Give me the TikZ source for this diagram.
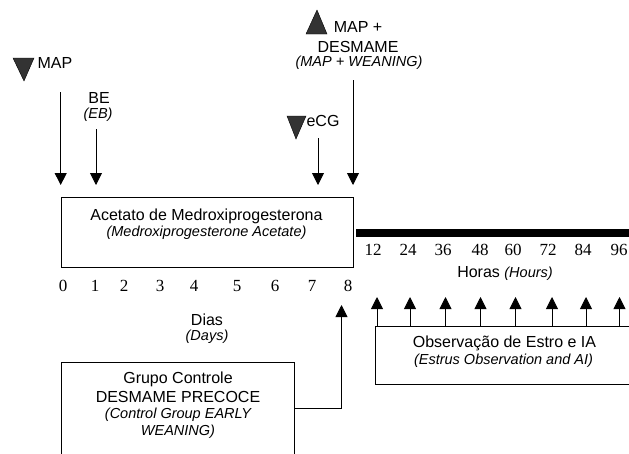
\documentclass[tikz,border=0pt]{standalone}
\usepackage{fontspec}
\setmainfont{Liberation Sans}
\newfontfamily\numfont{Liberation Serif}
\usetikzlibrary{arrows.meta}

\tikzset{
  lbl/.style={font=\fontsize{16}{18}\selectfont, inner sep=0pt},
  sub/.style={font=\fontsize{14.5}{16}\selectfont\itshape, inner sep=0pt},
  num/.style={font=\numfont\fontsize{17}{19}\selectfont, inner sep=0pt},
  box/.style={draw, line width=0.9pt, inner sep=0pt, anchor=north west},
  arr/.style={line width=0.9pt, -{Triangle[width=12pt,length=12pt]}},
  tri/.style={fill=black!80, draw=black, line width=0.4pt}
}

\begin{document}
\begin{tikzpicture}[x=1pt,y=-1pt]
  \useasboundingbox (0,0) rectangle (629,453);
  \clip (0,0) rectangle (629,453);

  \node[box, minimum width=292, minimum height=70] (acet) at (60.7,197) {};
  \node[box, minimum width=265, minimum height=58] (estro) at (375,326) {};
  \node[box, minimum width=233, minimum height=100] (grupo) at (60.7,362) {};

  \node[lbl] (acet1) at (206.5,216) {Acetato de Medroxiprogesterona};
  \node[sub] (acet2) at (206.5,233) {(Medroxiprogesterone Acetate)};
  \node[lbl] (estro1) at (504.5,343) {Observação de Estro e IA};
  \node[sub] (estro2) at (503.5,361) {(Estrus Observation and AI)};
  \node[lbl] (grupo1) at (178,379) {Grupo Controle};
  \node[lbl] (grupo2) at (178,397) {DESMAME PRECOCE};
  \node[sub] (grupo3) at (178,415) {(Control Group EARLY};
  \node[sub] (grupo4) at (178,432) {WEANING)};

  \filldraw[tri] (13,58) -- (34,58) -- (24,81) -- cycle;
  \filldraw[tri] (287,116) -- (306,116) -- (296,139) -- cycle;
  \filldraw[tri] (306,34) -- (327,34) -- (317,10) -- cycle;

  \node[lbl] (map) at (55,63) {MAP};
  \node[lbl] (be) at (99,98) {BE};
  \node[sub] (eb) at (98,115) {(EB)};
  \node[lbl] (ecg) at (323,121) {eCG};
  \node[lbl] (mapd1) at (358,27) {MAP +};
  \node[lbl] (mapd2) at (358,47) {DESMAME};
  \node[sub] (mapd3) at (359,63) {(MAP + WEANING)};

  \coordinate (s0) at (60.7,92);
  \coordinate (e0) at (60.7,185);
  \coordinate (s1) at (96,129);
  \coordinate (e1) at (96,185);
  \coordinate (s7) at (318,138);
  \coordinate (e7) at (318,185);
  \coordinate (s8) at (353,80);
  \coordinate (e8) at (353,185);
  \draw[arr] (s0) -- (e0);
  \draw[arr] (s1) -- (e1);
  \draw[arr] (s7) -- (e7);
  \draw[arr] (s8) -- (e8);

  \coordinate (bar1) at (356,233);
  \coordinate (bar2) at (640,233);
  \draw[line width=8pt] (bar1) -- (bar2);

  \node[num] (day0) at (63,286) {0};
  \node[num] (day1) at (95,286) {1};
  \node[num] (day2) at (124,286) {2};
  \node[num] (day3) at (160,286) {3};
  \node[num] (day4) at (194,286) {4};
  \node[num] (day5) at (237,286) {5};
  \node[num] (day6) at (275,286) {6};
  \node[num] (day7) at (312,286) {7};
  \node[num] (day8) at (348,286) {8};
  \node[lbl] (dias) at (207,320) {Dias};
  \node[sub] (days) at (207,337) {(Days)};

  \node[num] (hr12) at (373,250) {12};
  \node[num] (hr24) at (408,250) {24};
  \node[num] (hr36) at (443,250) {36};
  \node[num] (hr48) at (480,250) {48};
  \node[num] (hr60) at (513,250) {60};
  \node[num] (hr72) at (548,250) {72};
  \node[num] (hr84) at (583,250) {84};
  \node[num] (hr96) at (619,250) {96};
  \node[lbl] (horas) at (505,273) {Horas {\fontsize{14.5}{16}\selectfont\itshape (Hours)}};

  \coordinate (t1) at (377,297);
  \coordinate (t2) at (410,297);
  \coordinate (t3) at (445.5,297);
  \coordinate (t4) at (480.5,297);
  \coordinate (t5) at (515.5,297);
  \coordinate (t6) at (552,297);
  \coordinate (t7) at (586,297);
  \coordinate (t8) at (619.5,297);
  \draw[arr] (t1 |- estro.north) -- (t1);
  \draw[arr] (t2 |- estro.north) -- (t2);
  \draw[arr] (t3 |- estro.north) -- (t3);
  \draw[arr] (t4 |- estro.north) -- (t4);
  \draw[arr] (t5 |- estro.north) -- (t5);
  \draw[arr] (t6 |- estro.north) -- (t6);
  \draw[arr] (t7 |- estro.north) -- (t7);
  \draw[arr] (t8 |- estro.north) -- (t8);

  \coordinate (ctl) at (341.5,305);
  \draw[arr] ([yshift=4pt]grupo.east) -| (ctl);
\end{tikzpicture}
\end{document}
